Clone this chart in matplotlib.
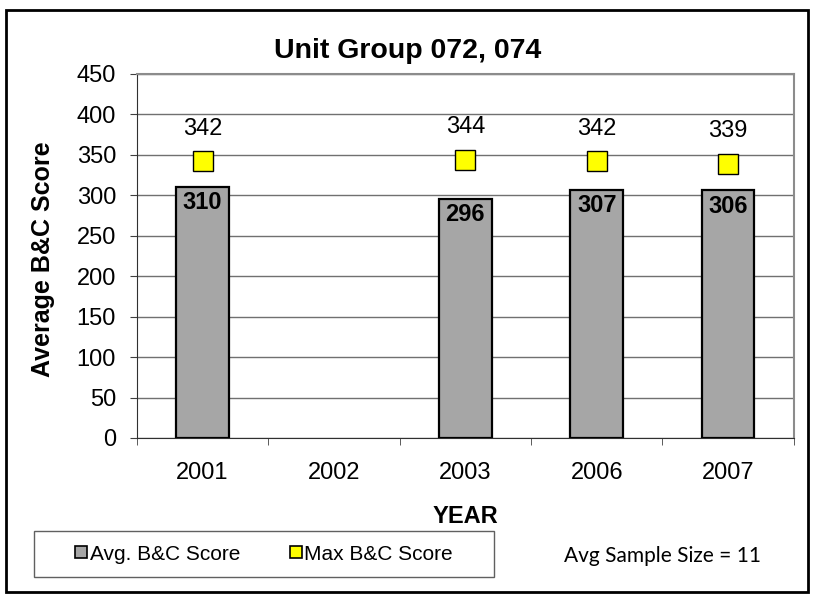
import numpy as np
import matplotlib.pyplot as plt
from matplotlib.patches import Rectangle
from matplotlib.lines import Line2D
from matplotlib.ticker import FixedLocator

# data
years = ['2001', '2002', '2003', '2006', '2007']
avg_score = [310, np.nan, 296, 307, 306]
max_score = [342, np.nan, 344, 342, 339]

plt.rcParams['font.family'] = ['Liberation Sans', 'DejaVu Sans']

fig = plt.figure(figsize=(8.15, 6), dpi=100)
ax = fig.add_axes([0.168, 0.27, 0.806, 0.6067])

x = np.arange(len(years))
ax.bar(x, avg_score, width=0.4, color='#a6a6a6', edgecolor='black', linewidth=1.6, zorder=3)
ax.plot(x, max_score, linestyle='none', marker='s', markersize=15, markerfacecolor='#ffff00',
        markeredgecolor='black', markeredgewidth=1, zorder=4)

for xi, a, m in zip(x, avg_score, max_score):
    if np.isnan(a):
        continue
    ax.text(xi, a - 5, f'{a:.0f}', ha='center', va='top', fontsize=17, fontweight='bold', zorder=5)
    ax.text(xi, m + 33, f'{m:.0f}', ha='center', va='baseline', fontsize=17, zorder=5)

ax.set_xlim(-0.5, len(years) - 0.5)
ax.set_ylim(0, 450)
ax.set_yticks(range(0, 451, 50))
ax.set_xticks(x)
ax.set_xticklabels(years)
ax.xaxis.set_minor_locator(FixedLocator(np.arange(len(years) + 1) - 0.5))
ax.tick_params(axis='y', labelsize=17, length=5, pad=10, color='#404040')
ax.tick_params(axis='x', which='major', labelsize=17, length=0, pad=17)
ax.tick_params(axis='x', which='minor', length=5, color='#404040')
ax.yaxis.grid(True, color='#707070', linewidth=1, zorder=0)
ax.set_axisbelow(True)
for s in ['top', 'right']:
    ax.spines[s].set_color('#8c8c8c')
    ax.spines[s].set_linewidth(1.5)
ax.spines['left'].set_color('#303030')
ax.spines['bottom'].set_color('#303030')

fig.text(0.5, 1 - 58 / 600, 'Unit Group 072, 074', fontsize=20.5, fontweight='bold',
         ha='center', va='baseline')
fig.text(43 / 815, 1 - 259 / 600, 'Average B&C Score', fontsize=18, fontweight='bold',
         rotation=90, ha='center', va='center')
fig.text(465 / 815, 1 - 523 / 600, 'YEAR', fontsize=17, fontweight='bold',
         ha='center', va='baseline')

# legend
fig.add_artist(Rectangle((34 / 815, 1 - 577 / 600), 460 / 815, 46 / 600, transform=fig.transFigure,
                         fill=False, edgecolor='#606060', linewidth=1))
handles = [
    Line2D([], [], linestyle='none', marker='s', markersize=8, markerfacecolor='#a6a6a6',
           markeredgecolor='black', markeredgewidth=1.2),
    Line2D([], [], linestyle='none', marker='s', markersize=8, markerfacecolor='#ffff00',
           markeredgecolor='black', markeredgewidth=1.2),
]
fig.legend(handles, ['Avg. B&C Score', 'Max B&C Score'], loc='center',
           bbox_to_anchor=(264 / 815, 1 - 554 / 600), ncol=2, fontsize=15,
           frameon=False, handletextpad=0.1, columnspacing=2.4, handlelength=0.6)

fig.text(662 / 815, 1 - 556 / 600, 'Avg Sample Size = 11', fontsize=15, ha='center', va='center',
         family=['Lato', 'DejaVu Sans'])

fig.add_artist(Rectangle((6 / 815, 1 - 592 / 600), 802 / 815, 582 / 600, transform=fig.transFigure,
                         fill=False, edgecolor='black', linewidth=2))

fig.savefig('out.png', dpi=100)
